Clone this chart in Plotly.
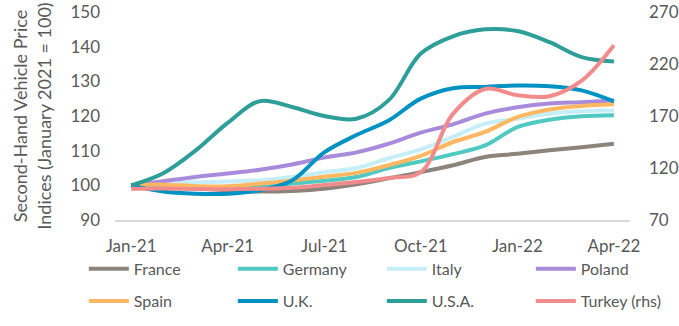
import plotly.graph_objects as go

months = ["Jan-21", "Feb-21", "Mar-21", "Apr-21", "May-21", "Jun-21", "Jul-21", "Aug-21",
          "Sep-21", "Oct-21", "Nov-21", "Dec-21", "Jan-22", "Feb-22", "Mar-22", "Apr-22"]
tick_labels = ["Jan-21", "Apr-21", "Jul-21", "Oct-21", "Jan-22", "Apr-22"]
tick_index = [0, 3, 6, 9, 12, 15]

france = [100, 99.6, 99.1, 98.6, 98.2, 98.4, 99.0, 100.3, 102.0, 103.8, 105.8, 108.2, 109.1, 110.1, 111.0, 112.0]
germany = [100, 99.6, 99.3, 99.3, 99.7, 100.5, 101.3, 102.4, 105.0, 106.9, 109.0, 111.5, 116.8, 118.9, 119.9, 120.2]
italy = [100, 100.6, 100.9, 101.1, 101.5, 102.4, 103.8, 105.0, 107.8, 110.4, 114.0, 117.8, 119.2, 120.7, 121.4, 121.6]
spain = [100, 100.2, 99.8, 99.7, 100.5, 101.4, 102.5, 103.6, 105.8, 108.5, 112.5, 115.4, 119.7, 121.9, 122.9, 123.4]
poland = [100, 101.2, 102.4, 103.4, 104.5, 106.0, 108.0, 109.5, 112.0, 115.2, 117.6, 120.7, 122.5, 123.6, 124.0, 124.5]
uk = [100, 98.2, 97.6, 97.6, 98.6, 101.4, 109.5, 114.5, 118.7, 125.0, 128.0, 128.4, 128.8, 128.6, 127.4, 124.2]
usa = [100, 103.5, 110.0, 118.0, 124.3, 122.6, 120.0, 119.2, 124.5, 138.0, 143.0, 145.0, 144.5, 141.3, 137.0, 135.7]
turkey_rhs = [100, 100.3, 99.8, 99.6, 100.0, 101.0, 103.7, 106.5, 110.4, 116.0, 172.0, 196.0, 190.0, 189.0, 204.0, 238.0]

series = [
    ("France", france, "#8C847A", "y", "legend"),
    ("Germany", germany, "#4FC9C1", "y", "legend"),
    ("Italy", italy, "#C5EEF8", "y", "legend"),
    ("Poland", poland, "#A98BDB", "y", "legend"),
    ("Spain", spain, "#FFB861", "y", "legend2"),
    ("U.K.", uk, "#0092C2", "y", "legend2"),
    ("U.S.A.", usa, "#2E9E98", "y", "legend2"),
    ("Turkey (rhs)", turkey_rhs, "#F28C8C", "y2", "legend2"),
]

x = list(range(len(months)))
fig = go.Figure()
for name, vals, color, ax, lg in series:
    fig.add_trace(go.Scatter(
        x=x, y=vals, name=name, yaxis=ax, legend=lg, mode="lines",
        line=dict(color=color, width=4, shape="spline", smoothing=1.0),
        customdata=months, hovertemplate="%{customdata}: %{y}<extra>" + name + "</extra>",
    ))

font_fam = "Lato, Liberation Sans, Arial, sans-serif"
grey = "#595959"
legend_common = dict(orientation="h", x=-0.0605, xanchor="left", yanchor="middle",
                     entrywidth=94, entrywidthmode="pixels",
                     font=dict(size=16, color=grey, family=font_fam),
                     itemwidth=40, bgcolor="rgba(0,0,0,0)")
fig.update_layout(
    width=679, height=326,
    margin=dict(l=115, r=49, t=12, b=106, autoexpand=False),
    plot_bgcolor="white", paper_bgcolor="white",
    font=dict(family=font_fam, color=grey, size=16),
    showlegend=True,
    legend=dict(y=-0.235, **legend_common),
    legend2=dict(y=-0.39, **legend_common),
    xaxis=dict(range=[-0.5, 15.5], tickvals=tick_index, ticktext=tick_labels,
               showgrid=False, showline=True, linecolor="#D9D9D9", linewidth=1.5,
               ticks="", zeroline=False, ticklabelstandoff=10, automargin=False,
               tickfont=dict(size=17, color=grey)),
    yaxis=dict(range=[90, 150], tickvals=[90, 100, 110, 120, 130, 140, 150],
               showgrid=False, zeroline=False, showline=False, ticks="",
               ticklabelstandoff=14, automargin=False,
               tickfont=dict(size=17, color=grey),
               title=dict(text="Second-Hand Vehicle Price<br>Indices (January 2021 = 100)",
                          font=dict(size=18, color=grey), standoff=14)),
    yaxis2=dict(range=[70, 270], tickvals=[70, 120, 170, 220, 270], overlaying="y",
                side="right", showgrid=False, zeroline=False, showline=False, ticks="",
                ticklabelstandoff=18, automargin=False,
                tickfont=dict(size=17, color=grey)),
)

fig.write_html("out.html")
